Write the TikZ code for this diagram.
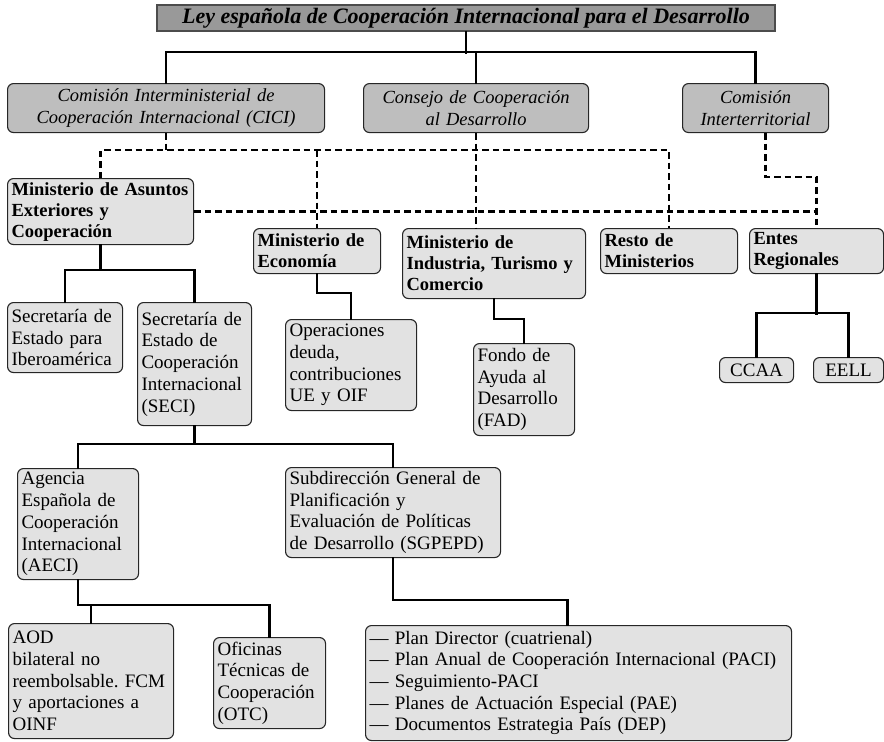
\documentclass[tikz,border=0pt]{standalone}
\usepackage{fontspec}
\setmainfont{Liberation Serif}
\usepackage{xcolor}
\usetikzlibrary{positioning}
\frenchspacing

\definecolor{titlegray}{RGB}{153,153,153}
\definecolor{headgray}{RGB}{190,190,190}
\definecolor{boxgray}{RGB}{226,226,226}

\begin{document}
\begin{tikzpicture}[x=1pt,y=-1pt]
\tikzstyle{every node}+=[inner xsep=4pt, inner ysep=2pt]
\tikzstyle{leybox}=[draw=black!70, line width=2pt, fill=titlegray, align=center, inner ysep=0pt,
  font=\fontsize{22}{24}\selectfont\bfseries\itshape]
\tikzstyle{headbox}=[draw=black!85, line width=1.1pt, rounded corners=6pt, fill=headgray,
  anchor=north west, align=center, font=\fontsize{18.5}{21.7}\selectfont\itshape]
\tikzstyle{minbox}=[draw=black!85, line width=1.1pt, rounded corners=6pt, fill=boxgray,
  anchor=north west, align=left, font=\fontsize{18.5}{21}\selectfont\bfseries]
\tikzstyle{orgbox}=[draw=black!85, line width=1.1pt, rounded corners=6pt, fill=boxgray,
  anchor=north west, align=left, font=\fontsize{19}{21.7}\selectfont]
\tikzstyle{link}=[black, line width=2.6pt, line cap=rect]
\tikzstyle{dlink}=[black, line width=2.5pt, dash pattern=on 6.5pt off 4pt]
\useasboundingbox (0,0) rectangle (884,742);

% ley y organos consultivos
\node[leybox, minimum width=618pt, minimum height=26pt] (ley) at (466,18)
  {Ley española de Cooperación Internacional para el Desarrollo};
\node[headbox, text width=309pt, minimum height=49pt] (cici) at (7,83)
  {Comisión Interministerial de\\Cooperación Internacional (CICI)};
\node[headbox, text width=217pt, minimum height=49pt] (consejo) at (363,83)
  {Consejo de Cooperación\\al Desarrollo};
\node[headbox, text width=138pt, minimum height=49pt] (interterr) at (682,83)
  {Comisión\\Interterritorial};

% ministerios
\node[minbox, text width=178pt, minimum height=66pt] (maec) at (7,178)
  {Ministerio de Asuntos\\Exteriores y\\Cooperación};
\node[minbox, text width=119pt, minimum height=45pt] (econ) at (253,228)
  {Ministerio de\\Economía};
\node[minbox, text width=175pt, minimum height=70pt] (mitc) at (402,228)
  {Ministerio de\\Industria, Turismo y\\Comercio};
\node[minbox, text width=129pt, minimum height=45pt] (resto) at (600,228)
  {Resto de\\Ministerios};
\node[minbox, text width=126pt, minimum height=45pt] (entes) at (749,228)
  {Entes\\Regionales};

% tercer nivel
\node[orgbox, text width=107pt, minimum height=70pt] (seib) at (7,302)
  {Secretaría de\\Estado para\\Iberoamérica};
\node[orgbox, text width=106pt, minimum height=123pt] (seci) at (137,302)
  {Secretaría de\\Estado de\\Cooperación\\Internacional\\(SECI)};
\node[orgbox, text width=123pt, minimum height=91pt] (deuda) at (285,319)
  {Operaciones\\deuda,\\contribuciones\\UE y OIF};
\node[orgbox, text width=93pt, minimum height=92pt] (fad) at (473,343)
  {Fondo de\\Ayuda al\\Desarrollo\\(FAD)};
\node[orgbox, text width=66pt, minimum height=25pt, align=center, inner ysep=0pt] (ccaa) at (719,357) {CCAA};
\node[orgbox, text width=62pt, minimum height=25pt, align=center, inner ysep=0pt] (eell) at (813,357) {EELL};

% cuarto nivel
\node[orgbox, text width=113pt, minimum height=111pt] (aeci) at (17,468)
  {Agencia\\Española de\\Cooperación\\Internacional\\(AECI)};
\node[orgbox, text width=207pt, minimum height=90pt] (sgpepd) at (285,467)
  {Subdirección General de\\Planificación y\\Evaluación de Políticas\\de Desarrollo (SGPEPD)};
\node[orgbox, text width=157pt, minimum height=115pt] (aod) at (8,623)
  {AOD\\bilateral no\\reembolsable. FCM\\y aportaciones a\\OINF};
\node[orgbox, text width=104pt, minimum height=91pt] (otc) at (213,637)
  {Oficinas\\Técnicas de\\Cooperación\\(OTC)};
\node[orgbox, text width=418pt, minimum height=115pt] (planes) at (365,625)
  {--- Plan Director (cuatrienal)\\
   --- Plan Anual de Cooperación Internacional (PACI)\\
   --- Seguimiento-PACI\\
   --- Planes de Actuación Especial (PAE)\\
   --- Documentos Estrategia País (DEP)};

% conexiones de la ley
\draw[link] (ley.south) -- ++(0,21);
\draw[link] (cici.north) |- (interterr.north |- 0,52) -- (interterr.north);
\draw[link] (consejo.north) -- (consejo.north |- 0,52);

% conexiones discontinuas
\draw[dlink] (cici.south) -- (cici.south |- 0,150);
\draw[dlink] (maec.north) |- (resto.north |- 0,150) -- (resto.north);
\draw[dlink] (econ.north |- 0,150) -- (econ.north);
\draw[dlink] (consejo.south) -- (consejo.south |- mitc.north);
\draw[dlink] (maec.east) -- (maec.east -| entes.north);
\draw[dlink] ([xshift=10pt]interterr.south) -- ++(0,44) -| (entes.north);

% conexiones jerarquicas
\draw[link] (maec.south) -- (maec.south |- 0,270);
\draw[link] (seib.north) |- (seci.north |- 0,270) -- (seci.north);
\draw[link] (econ.south) -- ++(0,19) -| (deuda.north);
\draw[link] (mitc.south) -- ++(0,20) -| (fad.north);
\draw[link] (entes.south) -- ++(0,40);
\draw[link] (ccaa.north) |- (eell.north |- 0,313) -- (eell.north);
\draw[link] (seci.south) -- (seci.south |- 0,444);
\draw[link] (aeci.north) |- (sgpepd.north |- 0,444) -- (sgpepd.north);
\draw[link] (aeci.south) |- (otc.north |- 0,605) -- (otc.north);
\draw[link] (aod.north) -- (aod.north |- 0,605);
\draw[link] (sgpepd.south) -- ++(0,42) -| ([xshift=-11pt]planes.north);
\end{tikzpicture}
\end{document}
